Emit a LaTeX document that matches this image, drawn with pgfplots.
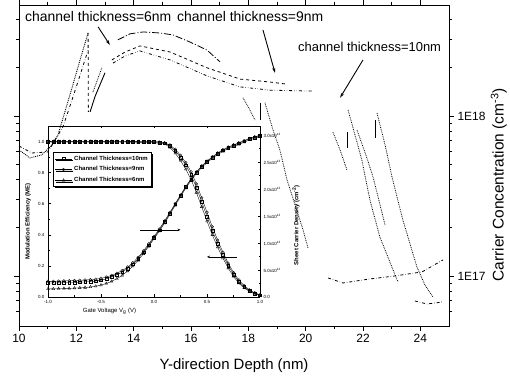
\documentclass[border=0pt]{standalone}
\usepackage{pgfplots}
\pgfplotsset{compat=1.18}
\usepackage{pgfplotstable}
\usepackage{fontspec}
\setmainfont{Liberation Sans}
\usetikzlibrary{shadows,arrows.meta}

% Gate sweep: modulation efficiency and sheet carrier density (units of 1e13 cm^-2)
\pgfplotstableread{
V     ME10  ME9   ME6   NS10  NS9   NS6
-1.00 1.000 1.002 0.998 0.26  0.29  0.15
-0.95 1.000 1.002 0.998 0.26  0.29  0.15
-0.90 1.000 1.002 0.998 0.26  0.295 0.155
-0.85 1.000 1.002 0.998 0.265 0.30  0.16
-0.80 1.000 1.002 0.998 0.27  0.30  0.16
-0.75 1.000 1.002 0.998 0.27  0.305 0.165
-0.70 1.000 1.002 0.998 0.275 0.31  0.17
-0.65 1.000 1.002 0.998 0.28  0.315 0.175
-0.60 1.000 1.002 0.998 0.285 0.32  0.185
-0.55 1.000 1.002 0.998 0.295 0.33  0.20
-0.50 1.000 1.002 0.998 0.31  0.345 0.22
-0.45 1.000 1.002 0.998 0.335 0.37  0.25
-0.40 1.000 1.002 0.998 0.37  0.40  0.29
-0.35 1.000 1.002 0.997 0.41  0.44  0.34
-0.30 1.000 1.002 0.997 0.46  0.49  0.40
-0.25 1.000 1.001 0.997 0.53  0.555 0.48
-0.20 0.999 1.001 0.996 0.61  0.635 0.57
-0.15 0.999 1.001 0.995 0.71  0.735 0.68
-0.10 0.998 1.000 0.994 0.83  0.855 0.80
-0.05 0.998 1.000 0.993 0.96  0.985 0.94
 0.00 0.997 0.999 0.992 1.10  1.12  1.08
 0.05 0.995 0.997 0.990 1.24  1.26  1.22
 0.10 0.990 0.992 0.985 1.39  1.41  1.37
 0.15 0.972 0.978 0.962 1.55  1.57  1.53
 0.20 0.940 0.950 0.925 1.72  1.73  1.70
 0.25 0.898 0.912 0.878 1.88  1.89  1.86
 0.30 0.848 0.865 0.822 2.04  2.05  2.02
 0.35 0.785 0.805 0.755 2.18  2.19  2.16
 0.40 0.705 0.728 0.672 2.31  2.32  2.29
 0.45 0.612 0.638 0.580 2.42  2.43  2.40
 0.50 0.518 0.545 0.488 2.51  2.52  2.49
 0.55 0.428 0.452 0.400 2.59  2.60  2.57
 0.60 0.345 0.366 0.320 2.66  2.67  2.64
 0.65 0.270 0.288 0.250 2.72  2.73  2.70
 0.70 0.203 0.218 0.186 2.77  2.78  2.75
 0.75 0.146 0.158 0.132 2.81  2.82  2.79
 0.80 0.100 0.110 0.089 2.85  2.86  2.83
 0.85 0.066 0.073 0.058 2.89  2.90  2.87
 0.90 0.041 0.046 0.036 2.93  2.94  2.91
 0.95 0.023 0.027 0.020 2.96  2.97  2.94
 1.00 0.012 0.014 0.010 2.99  3.00  2.97
}\gatesweep

\begin{document}
\begin{tikzpicture}
\useasboundingbox (-19bp,-55bp) rectangle (491bp,326bp);

% ---------------- depth profiles ----------------
\begin{axis}[
  name=main, at={(0,0)}, anchor=south west,
  scale only axis, width=430bp, height=321bp,
  xmin=10, xmax=25,
  ymode=log, ymin=4.87e16, ymax=4.94e18,
  xtick={10,12,14,16,18,20,22,24}, minor x tick num=1,
  ytick={1e17,1e18}, yticklabels={1E17,1E18},
  minor ytick={6e16,7e16,8e16,9e16,2e17,3e17,4e17,5e17,6e17,7e17,8e17,9e17,2e18,3e18,4e18},
  yticklabel pos=right,
  tick align=outside,
  major tick length=5bp, minor tick length=3bp,
  axis line style={line width=0.9pt},
  every tick/.style={black, line width=0.7pt},
  ticklabel style={font=\fontsize{12}{14}\selectfont},
  /pgf/number format/assume math mode=true,
  xlabel={Y-direction Depth (nm)},
  xlabel style={font=\fontsize{15}{18}\selectfont, at={(axis description cs:0.5,0)}, anchor=center, yshift=-40bp},
  ylabel={Carrier Concentration (cm\textsuperscript{-3})},
  ylabel style={font=\fontsize{15.5}{18}\selectfont, at={(axis description cs:1.116,0.44)}, anchor=center},
  clip=false,
]
% left flank of the profiles
\addplot[black, densely dotted, line width=0.9pt] coordinates {
 (10.00,6.13e17) (10.38,5.47e17) (10.80,5.71e17) (11.15,6.59e17) (11.36,7.61e17)
 (11.60,1.06e18) (11.85,1.50e18) (12.13,2.24e18) (12.41,3.30e18)};
\addplot[black, dashdotted, line width=0.8pt] coordinates {
 (10.00,6.49e17) (10.45,5.87e17) (11.01,5.96e17) (11.53,8.54e17) (11.85,1.26e18)
 (12.13,1.80e18) (12.41,2.58e18)};
\addplot[black, dashed, line width=0.8pt] coordinates {(12.41,3.30e18) (12.42,1.06e18)};
\addplot[black, line width=0.9pt] coordinates {(12.48,1.06e18) (12.65,1.32e18) (13.00,1.86e18)};
\addplot[black, densely dotted, line width=0.8pt] coordinates {(12.58,1.41e18) (12.89,2.00e18)};
% channel region
\addplot[black, line width=0.8pt, dash pattern=on 7pt off 2pt on 1pt off 2pt] coordinates {
 (13.45,2.99e18) (13.87,3.26e18) (14.33,3.35e18) (14.92,3.30e18) (15.37,3.21e18)
 (15.96,2.90e18) (16.56,2.58e18) (17.01,2.18e18)};
\addplot[black, densely dotted, line width=0.8pt] coordinates {
 (17.81,1.30e18) (18.02,1.12e18) (18.23,9.44e17)};
\addplot[black, densely dotted, line width=0.8pt] coordinates {
 (18.58,1.21e18) (18.86,8.18e17) (19.10,6.13e17) (19.35,3.98e17) (19.63,2.78e17)
 (19.91,1.94e17) (20.08,1.50e17)};
\addplot[black, line width=0.9pt] coordinates {(18.44,1.21e18) (18.44,9.44e17)};
\addplot[black, dashed, line width=0.8pt] coordinates {
 (13.24,2.24e18) (13.70,2.51e18) (14.22,2.74e18) (15.27,2.51e18) (16.56,2.00e18)
 (17.71,1.70e18) (18.75,1.63e18) (19.35,1.58e18)};
\addplot[black, dashdotdotted, line width=0.8pt] coordinates {
 (13.28,2.14e18) (13.70,2.37e18) (14.22,2.55e18) (15.27,2.24e18) (16.56,1.78e18)
 (17.71,1.52e18) (18.75,1.45e18) (20.22,1.43e18)};
% back barrier side
\addplot[black, densely dotted, line width=0.8pt] coordinates {
 (21.48,1.09e18) (21.72,7.61e17) (21.96,5.31e17) (22.24,2.99e17) (22.59,1.75e17)
 (22.94,1.22e17) (23.22,9.17e16)};
\addplot[black, densely dotted, line width=0.8pt] coordinates {
 (21.79,8.18e17) (22.10,5.71e17) (22.35,4.16e17) (22.77,2.08e17)};
\addplot[black, densely dotted, line width=0.8pt] coordinates {
 (20.95,7.94e17) (21.20,6.13e17) (21.44,4.60e17)};
\addplot[black, line width=0.9pt] coordinates {(21.44,7.94e17) (21.44,6.31e17)};
\addplot[black, line width=0.9pt] coordinates {(22.45,9.44e17) (22.45,7.29e17)};
\addplot[black, densely dotted, line width=0.8pt] coordinates {
 (22.49,1.04e18) (22.77,6.59e17) (23.01,4.16e17) (23.39,2.24e17) (23.88,1.14e17)
 (24.16,8.79e16) (24.44,7.40e16)};
\addplot[black, dashdotted, line width=0.8pt] coordinates {
 (20.78,9.72e16) (21.30,9.04e16) (22.24,9.58e16) (23.11,1.00e17) (24.06,1.06e17)
 (24.79,1.26e17)};
\addplot[black, dashdotted, line width=0.8pt] coordinates {
 (23.81,6.98e16) (24.23,6.68e16) (24.79,6.88e16)};

% labels
\node[anchor=west, inner sep=0pt, font=\fontsize{14}{16}\selectfont] at (axis cs:10.21,4.16e18) {channel thickness=6nm};
\node[anchor=west, inner sep=0pt, font=\fontsize{14}{16}\selectfont] at (axis cs:15.51,4.16e18) {channel thickness=9nm};
\node[anchor=west, inner sep=0pt, font=\fontsize{13}{16}\selectfont] at (axis cs:19.73,2.70e18) {channel thickness=10nm};
\draw[-{Stealth[length=5bp,width=3bp]}, line width=0.9pt] (axis cs:12.76,3.6e18) -- (axis cs:13.17,2.78e18);
\draw[-{Stealth[length=5bp,width=3bp]}, line width=0.9pt] (axis cs:18.51,3.45e18) -- (axis cs:18.93,1.86e18);
\draw[-{Stealth[length=5bp,width=3bp]}, line width=0.9pt] (axis cs:22.0,2.24e18) -- (axis cs:21.2,1.30e18);
\end{axis}

% ---------------- inset: modulation efficiency ----------------
\begin{axis}[
  at={(29bp,29bp)}, anchor=south west,
  scale only axis, width=212bp, height=171bp,
  xmin=-1, xmax=1, ymin=0, ymax=1.1,
  axis y line*=left,
  xtick={-1,-0.5,0,0.5,1}, minor x tick num=1,
  ytick={0,0.2,0.4,0.6,0.8,1.0}, minor y tick num=1,
  tick align=inside,
  major tick length=2.5bp, minor tick length=1.5bp,
  axis line style={line width=0.8pt},
  every tick/.style={black, line width=0.5pt},
  ticklabel style={font=\fontsize{4.5}{5}\selectfont},
  xticklabel style={/pgf/number format/.cd, fixed, fixed zerofill, precision=1},
  yticklabel style={/pgf/number format/.cd, fixed, fixed zerofill, precision=1},
  /pgf/number format/assume math mode=true,
  xlabel={Gate Voltage V\textsubscript{g} (V)},
  xlabel style={font=\fontsize{6}{7}\selectfont, at={(axis description cs:0.29,0)}, anchor=center, yshift=-14bp},
  ylabel={Modulation Efficiency (ME)},
  ylabel style={font=\bfseries\fontsize{6}{7}\selectfont, at={(axis description cs:-0.094,0.44)}, anchor=center},
  legend cell align=left,
  legend style={at={(axis description cs:0.024,0.848)}, anchor=north west,
    font=\bfseries\fontsize{6}{7}\selectfont, draw=black, line width=0.6pt, fill=white,
    inner sep=1.5pt, row sep=1pt,
    drop shadow={shadow xshift=1.4bp, shadow yshift=-1.4bp, fill=black, opacity=1}},
  clip=false,
]
\addplot[black, line width=0.35pt, mark=square, mark size=1.4pt, mark options={solid, line width=0.35pt}] table[x=V, y=ME10] {\gatesweep};
\addlegendentry{Channel Thickness=10nm}
\addplot[black, line width=0.35pt, mark=o, mark size=1.4pt, mark options={solid, line width=0.35pt}] table[x=V, y=ME9] {\gatesweep};
\addlegendentry{Channel Thickness=9nm}
\addplot[black, line width=0.35pt, mark=triangle, mark size=1.6pt, mark options={solid, line width=0.35pt}] table[x=V, y=ME6] {\gatesweep};
\addlegendentry{Channel Thickness=6nm}
\draw[-{Stealth[length=3bp,width=2.5bp]}, line width=0.6pt] (axis cs:0.78,0.258) -- (axis cs:0.50,0.258);
\draw[-{Stealth[length=3bp,width=2.5bp]}, line width=0.6pt] (axis cs:-0.13,0.432) -- (axis cs:0.25,0.432);
\end{axis}

% ---------------- inset: sheet carrier density ----------------
\begin{axis}[
  at={(29bp,29bp)}, anchor=south west,
  scale only axis, width=212bp, height=171bp,
  xmin=-1, xmax=1, ymin=0, ymax=3.17,
  axis y line*=right, axis x line=none,
  ytick={0,0.5,1,1.5,2,2.5,3},
  yticklabels={0.0, 5.0x10\textsuperscript{12}, 1.0x10\textsuperscript{13}, 1.5x10\textsuperscript{13}, 2.0x10\textsuperscript{13}, 2.5x10\textsuperscript{13}, 3.0x10\textsuperscript{13}},
  minor y tick num=1,
  tick align=inside,
  major tick length=2.5bp, minor tick length=1.5bp,
  axis line style={line width=0.8pt},
  every tick/.style={black, line width=0.5pt},
  ticklabel style={font=\fontsize{4.5}{5}\selectfont},
  ylabel={Sheet Carrier Density (cm\textsuperscript{-2})},
  ylabel style={font=\bfseries\fontsize{6}{7}\selectfont, at={(axis description cs:1.17,0.42)}, anchor=center},
]
\addplot[black, line width=0.35pt, mark=square, mark size=1.4pt, mark options={solid, line width=0.35pt}] table[x=V, y=NS10] {\gatesweep};
\addplot[black, line width=0.35pt, mark=o, mark size=1.4pt, mark options={solid, line width=0.35pt}] table[x=V, y=NS9] {\gatesweep};
\addplot[black, line width=0.35pt, mark=triangle, mark size=1.6pt, mark options={solid, line width=0.35pt}] table[x=V, y=NS6] {\gatesweep};
\end{axis}
\end{tikzpicture}
\end{document}
